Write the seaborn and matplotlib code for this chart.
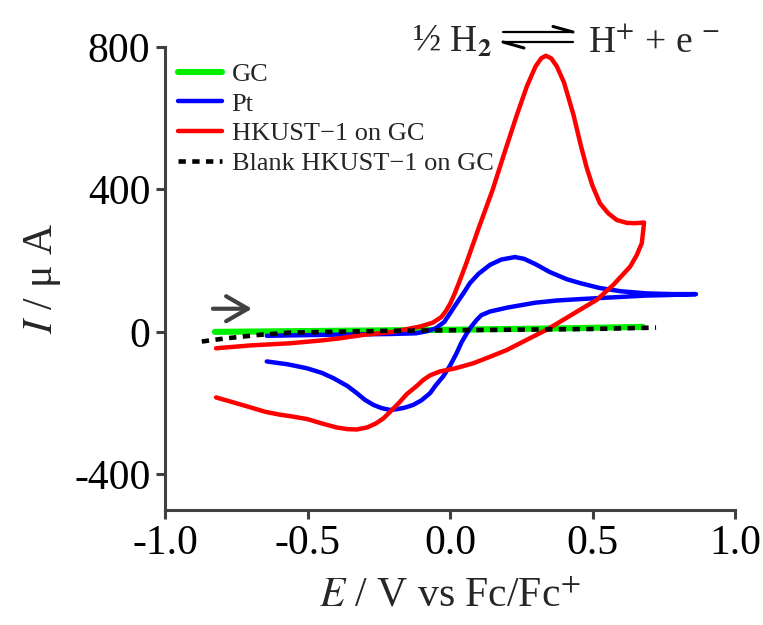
import numpy as np
import pandas as pd
import matplotlib
matplotlib.use("Agg")
import matplotlib.pyplot as plt
from matplotlib.lines import Line2D
import seaborn as sns

# ---------------- data ----------------
gc_x = [-0.825, -0.4, 0.0, 0.4, 0.677]
gc_y = [0, 3, 6, 10, 14]

pt_x = [-0.643, -0.421, -0.211, -0.12, -0.08, -0.05, -0.02, 0.0, 0.023, 0.05,
        0.07, 0.1, 0.14, 0.18, 0.228, 0.26, 0.3, 0.35, 0.409, 0.456,
        0.526, 0.6, 0.69, 0.78, 0.863,
        0.75, 0.69, 0.573, 0.456, 0.374, 0.3, 0.257, 0.2, 0.14, 0.11,
        0.094, 0.075, 0.059, 0.04, 0.023, 0.0, -0.024, -0.05, -0.07, -0.1,
        -0.129, -0.16, -0.187, -0.211, -0.24, -0.269, -0.3, -0.327, -0.36, -0.409,
        -0.45, -0.503, -0.57, -0.643]
pt_y = [-11, -8, -6, -4, 2, 10, 28, 52, 80, 112,
        137, 163, 188, 203, 210, 205, 190, 168, 148, 137,
        123, 114, 108, 106, 106,
        103, 102, 97, 92, 88, 82, 76, 68, 57, 47,
        34, 15, -4, -30, -60, -95, -125, -150, -172, -192,
        -205, -213, -217, -219, -214, -205, -190, -172, -152, -130,
        -115, -102, -91, -83]

hk_x = [-0.821, -0.7, -0.561, -0.45, -0.386, -0.3, -0.2, -0.15, -0.105, -0.06,
        -0.03, -0.015, 0.0, 0.015, 0.03, 0.056, 0.1, 0.15, 0.19, 0.235,
        0.27, 0.3, 0.32, 0.336, 0.355, 0.375, 0.4, 0.433, 0.46, 0.48,
        0.5, 0.526, 0.555, 0.585, 0.62, 0.65, 0.681,
        0.673, 0.655, 0.632, 0.573, 0.515, 0.456, 0.4, 0.339, 0.27, 0.199,
        0.14, 0.082, 0.02, -0.035, -0.07, -0.094, -0.117, -0.152, -0.18, -0.211,
        -0.234, -0.26, -0.29, -0.327, -0.36, -0.4, -0.45, -0.5, -0.55, -0.6,
        -0.65, -0.7, -0.76, -0.821]
hk_y = [-46, -38, -32, -24, -18, -8, 0, 8, 15, 26,
        42, 58, 78, 105, 135, 190, 290, 400, 500, 610,
        690, 745, 768, 775, 768, 745, 700, 610, 520, 460,
        410, 361, 333, 314, 306, 305, 307,
        249, 215, 183, 132, 90, 62, 35, 6, -22, -51,
        -70, -88, -102, -111, -122, -135, -152, -175, -200, -225,
        -243, -257, -268, -274, -273, -268, -257, -245, -238, -232,
        -224, -212, -198, -184]

bl_x = [-0.871, -0.795, -0.678, -0.561, -0.211, 0.2, 0.491, 0.723]
bl_y = [-27, -19, -9, -2, 3, 6, 8, 12]

labels = ["GC", "Pt", "HKUST\u22121 on GC", "Blank HKUST\u22121 on GC"]
colors = ["#00f000", "#0000ff", "#ff0000", "#000000"]

xticks = [-1.0, -0.5, 0.0, 0.5, 1.0]
xticklabels = ["-1.0", "-0.5", "0.0", "0.5", "1.0"]
yticks = [-400, 0, 400, 800]
yticklabels = ["-400", "0", "400", "800"]

# ---------------- style ----------------
sns.set_theme(style="ticks")
plt.rcParams["font.family"] = ["Liberation Serif", "DejaVu Serif"]
plt.rcParams["mathtext.fontset"] = "stix"

W, H = 763, 625
fig = plt.figure(figsize=(W / 100, H / 100), dpi=100)
ax = fig.add_axes([0.2163, 0.184, 0.747, 0.741])

series = [(gc_x, gc_y), (pt_x, pt_y), (hk_x, hk_y), (bl_x, bl_y)]
widths = [4.4, 3.2, 3.2, 3.3]
styles = ["-", "-", "-", (0, (1.6, 1.4))]
for (xs, ys), lab, col, lw, ls in zip(series, labels, colors, widths, styles):
    df = pd.DataFrame({"E": xs, "I": ys})
    sns.lineplot(data=df, x="E", y="I", sort=False, estimator=None,
                 color=col, lw=lw, linestyle=ls, label=lab, ax=ax)

ax.set_xlim(-1.0, 1.0)
ax.set_ylim(-500, 800)
ax.set_xticks(xticks)
ax.set_xticklabels(xticklabels)
ax.set_yticks(yticks)
ax.set_yticklabels(yticklabels)

sns.despine(ax=ax)
for s in ["left", "bottom"]:
    ax.spines[s].set_linewidth(2.2)
    ax.spines[s].set_color("#404040")
ax.tick_params(width=2.2, length=6.5, color="#404040", labelsize=30,
               labelcolor="black", direction="out", pad=4)

ax.set_xlabel(r"$E$ / V vs Fc/Fc$^{+}$", fontsize=30, labelpad=10)
ax.set_ylabel(r"$I$ / μ A", fontsize=30, labelpad=8)

leg = ax.legend(loc="upper left", bbox_to_anchor=(0.0, 0.995), frameon=False,
                fontsize=19, handlelength=1.67, handletextpad=0.35,
                labelspacing=0.24, borderaxespad=0.3, borderpad=0.2)

# scan direction arrow
ax.annotate("", xy=(-0.695, 65), xytext=(-0.832, 65),
            arrowprops=dict(arrowstyle="->,head_length=1.3,head_width=0.75",
                            lw=3, color="#404040", shrinkA=0, shrinkB=0))

# reaction text: ½ H2 <=> H+ + e-
def fx(px):
    return px / W

def fy(py):
    return 1 - py / H

fig.text(fx(412), fy(52), r"½ H$_{\mathbf{2}}$", fontsize=27, va="baseline", ha="left")
fig.text(fx(588), fy(52), r"H$^{+}$ + e $^{-}$", fontsize=27, va="baseline", ha="left")
# equilibrium harpoons
fig.add_artist(Line2D([fx(503), fx(573)], [fy(32), fy(32)], color="black", lw=1.6))
fig.add_artist(Line2D([fx(553), fx(573)], [fy(26.5), fy(32)], color="black", lw=2.2))
fig.add_artist(Line2D([fx(503), fx(573)], [fy(42), fy(42)], color="black", lw=1.6))
fig.add_artist(Line2D([fx(503), fx(524)], [fy(42), fy(48)], color="black", lw=2.2))

fig.savefig("out.png", dpi=100)
